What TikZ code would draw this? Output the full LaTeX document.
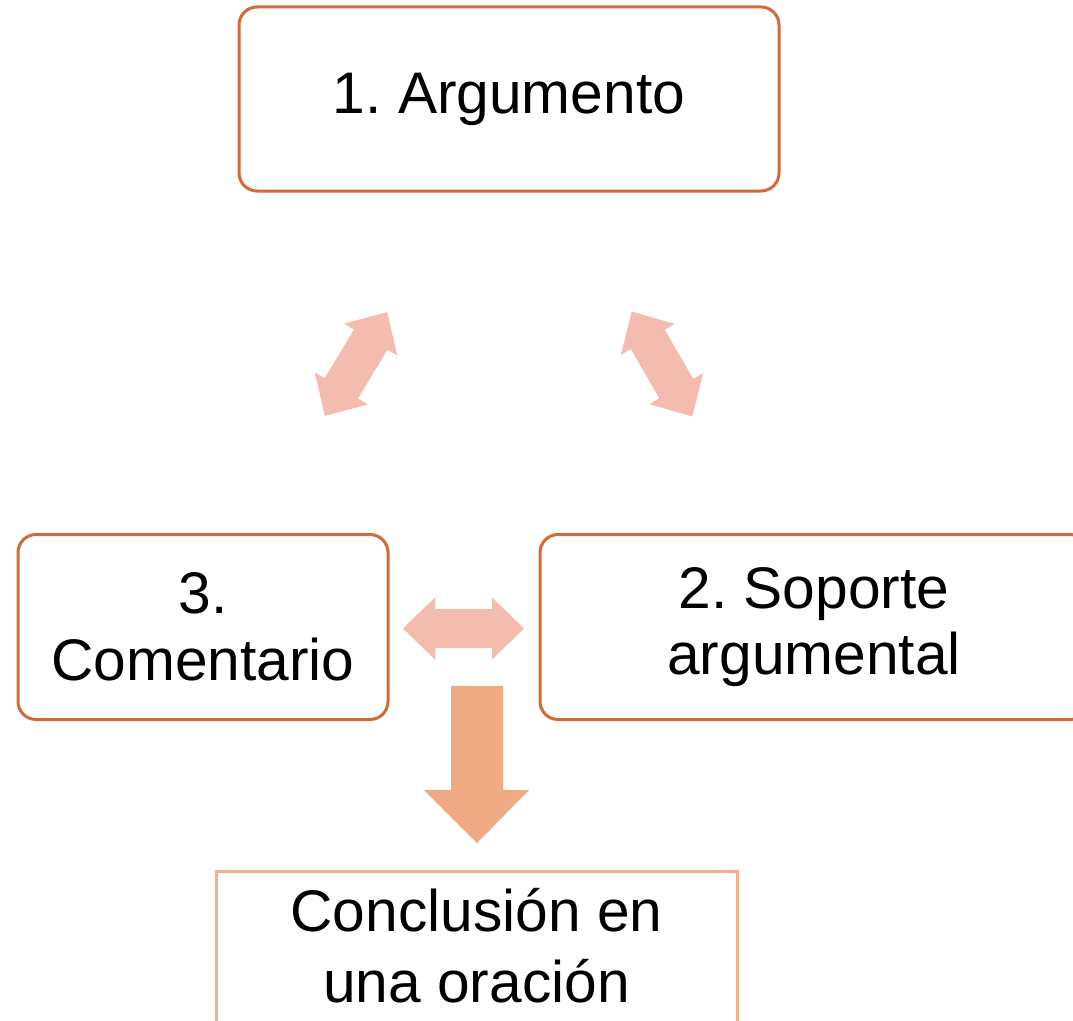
\documentclass[tikz,border=0pt]{standalone}
\usepackage{fontspec}
\setmainfont{Liberation Sans}
\frenchspacing
\definecolor{boxorange}{RGB}{214,106,54}
\definecolor{lightorange}{RGB}{243,176,138}
\definecolor{dblpink}{RGB}{243,188,174}
\definecolor{downorange}{RGB}{241,171,132}
\tikzset{
  mainbox/.style={draw=boxorange, line width=2.25pt, rounded corners=13.5pt, fill=white,
    align=center, font=\fontsize{44}{50}\selectfont, inner sep=0pt},
  concbox/.style={draw=lightorange, line width=2.25pt, fill=white},
  conctext/.style={align=center, font=\fontsize{44}{53}\selectfont, inner sep=0pt},
  dblarrowfill/.style={fill=dblpink, draw=none},
  downarrowfill/.style={fill=downorange, draw=none}
}
% double block arrow centred at origin along x: length 121, head half 31, head length 32, shaft half 19.5
\newcommand{\mydblarrow}[2]{%
  \fill[dblarrowfill, shift={(#1)}, rotate=#2]
    (-60.5,0) -- (-28.5,31) -- (-28.5,19.5) -- (28.5,19.5) -- (28.5,31) -- (60.5,0)
    -- (28.5,-31) -- (28.5,-19.5) -- (-28.5,-19.5) -- (-28.5,-31) -- cycle;}
\begin{document}
\begin{tikzpicture}[x=0.75pt, y=-0.75pt]
\useasboundingbox (0,0) rectangle (1073,1020);
\clip (0,0) rectangle (1073,1020);
\fill[white] (0,0) rectangle (1073,1020);

% boxes
\node[mainbox, minimum width=405pt, minimum height=138pt] (arg) at (509,99) {1. Argumento};
\node[mainbox, minimum width=277.5pt, minimum height=138.75pt] (com) at (203,627) {3.\\Comentario};
\node[mainbox, minimum width=411pt, minimum height=138.75pt] (sop) at (814,627) {2. Soporte\\argumental};

% conclusion box (open at the bottom edge of the picture)
\node[concbox, minimum width=390.75pt, minimum height=150pt] (con) at (476.5,971) {};
\node[conctext] (contxt) at (476.5,946) {Conclusión en\\una oración};

% double arrows
\coordinate (la) at (356,364);
\coordinate (ra) at (662,364);
\coordinate (ha) at (463.5,628.5);
\mydblarrow{la}{59}
\mydblarrow{ra}{-60}
\mydblarrow{ha}{0}

% down arrow
\fill[downarrowfill] (451,686) -- (503,686) -- (503,790) -- (529,790) -- (477,843)
  -- (424,790) -- (451,790) -- cycle;
\end{tikzpicture}
\end{document}
